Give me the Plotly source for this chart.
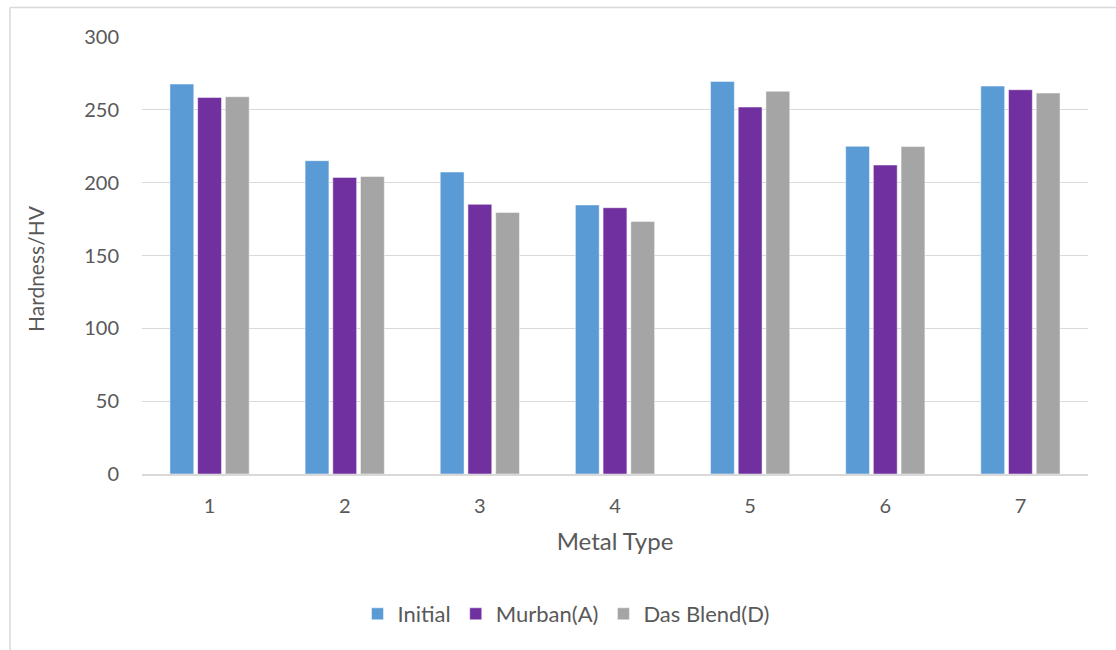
import plotly.graph_objects as go

categories = ["1", "2", "3", "4", "5", "6", "7"]
initial = [267.7, 215.1, 207.3, 184.7, 269.5, 225.0, 266.3]
murban = [258.5, 203.6, 185.1, 182.8, 251.9, 212.1, 263.8]
das_blend = [259.0, 204.3, 179.6, 173.4, 262.7, 224.8, 261.5]

series_names = ["Initial", "Murban(A)", "Das Blend(D)"]
colors = ["#5B9BD5", "#7030A0", "#A5A5A5"]

FONT = "Lato, Carlito, Calibri, sans-serif"
GRAY = "#595959"

fig = go.Figure()
for name, vals, col in zip(series_names, [initial, murban, das_blend], colors):
    fig.add_trace(go.Bar(
        x=categories, y=vals, name=name,
        marker=dict(color=col, line=dict(color="rgba(255,255,255,0.6)", width=0.8)),
    ))

L, R, T, B = 142, 28, 37, 176
W, H = 1116, 650
pw = W - L - R
ph = H - T - B

fig.update_layout(
    width=W, height=H,
    margin=dict(l=L, r=R, t=T, b=B, pad=0),
    paper_bgcolor="white", plot_bgcolor="white",
    barmode="group", bargap=0.385, bargroupgap=0.14,
    font=dict(family=FONT, color=GRAY, size=20),
    showlegend=True,
    legend=dict(orientation="h", x=(566 - L) / pw, xanchor="center",
                y=(T + ph - 614) / ph, yanchor="middle",
                font=dict(size=22, color=GRAY), itemwidth=30,
                traceorder="normal"),
    xaxis=dict(type="category", showgrid=False, showline=True,
               linecolor="#d9d9d9", linewidth=1.5, ticks="",
               ticklabelstandoff=13, tickfont=dict(size=20, color=GRAY),
               title=dict(text="Metal Type", font=dict(size=24, color=GRAY), standoff=17)),
    yaxis=dict(range=[0, 300], tickvals=[0, 50, 100, 150, 200, 250, 300],
               showgrid=True, gridcolor="#d9d9d9", gridwidth=1.2,
               zeroline=False, showline=False, ticks="",
               ticklabelstandoff=22, tickfont=dict(size=20, color=GRAY)),
    annotations=[
        dict(text="Hardness/HV", textangle=-90, showarrow=False,
             xref="paper", yref="paper",
             x=(35 - L) / pw, y=(T + ph - 269) / ph,
             xanchor="center", yanchor="middle",
             font=dict(size=21, color=GRAY)),
    ],
    shapes=[
        dict(type="line", xref="paper", yref="paper",
             x0=(10 - L) / pw, x1=(10 - L) / pw,
             y0=(T + ph - 7.5) / ph, y1=(T + ph - 700) / ph,
             line=dict(color="#d9d9d9", width=1.5)),
        dict(type="line", xref="paper", yref="paper",
             x0=(10 - L) / pw, x1=(1200 - L) / pw,
             y0=(T + ph - 7.5) / ph, y1=(T + ph - 7.5) / ph,
             line=dict(color="#d9d9d9", width=1.5)),
    ],
)

fig.write_html("out.html", config={"displayModeBar": False},
               post_script="document.body.style.margin='0';document.body.style.overflow='hidden';")
